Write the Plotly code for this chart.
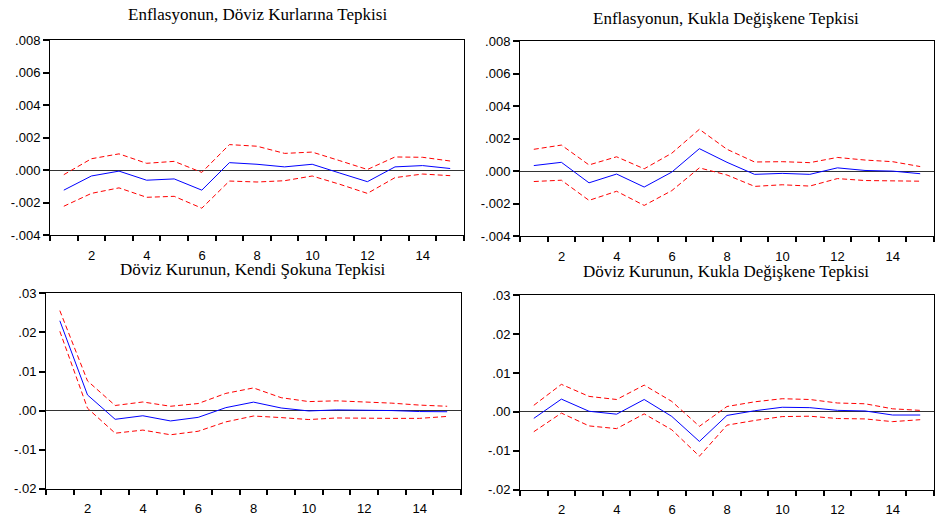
import plotly.graph_objects as go

# ---------------- data ----------------
periods = list(range(1, 16))

# Panel 1: Enflasyonun, Döviz Kurlarına Tepkisi
inf_fx = [-0.00123, -0.00036, -0.00006, -0.00062, -0.00054, -0.00123, 0.00046, 0.00036,
          0.00020, 0.00036, -0.00018, -0.00071, 0.00020, 0.00028, 0.00010]
inf_fx_up = [-0.00028, 0.00070, 0.00100, 0.00042, 0.00054, -0.00014, 0.00157, 0.00147,
             0.00103, 0.00111, 0.00058, 0.00004, 0.00081, 0.00079, 0.00056]
inf_fx_lo = [-0.00222, -0.00143, -0.00109, -0.00167, -0.00161, -0.00234, -0.00067, -0.00073,
             -0.00065, -0.00036, -0.00087, -0.00143, -0.00046, -0.00024, -0.00034]

# Panel 2: Enflasyonun, Kukla Değişkene Tepkisi
inf_d = [0.00034, 0.00054, -0.00072, -0.00018, -0.00098, -0.00006, 0.00138, 0.00054,
         -0.00020, -0.00014, -0.00020, 0.00020, 0.00004, 0.00000, -0.00016]
inf_d_up = [0.00134, 0.00160, 0.00038, 0.00088, 0.00014, 0.00110, 0.00257, 0.00134,
            0.00056, 0.00058, 0.00052, 0.00084, 0.00068, 0.00058, 0.00028]
inf_d_lo = [-0.00064, -0.00056, -0.00180, -0.00124, -0.00211, -0.00120, 0.00020, -0.00024,
            -0.00094, -0.00084, -0.00092, -0.00046, -0.00058, -0.00058, -0.00062]

# Panel 3: Döviz Kurunun, Kendi Şokuna Tepkisi
fx_fx = [0.0230, 0.0040, -0.00224, -0.00133, -0.00266, -0.00174, 0.00075, 0.00216,
         0.00066, -0.00010, 0.00017, 0.00010, 0.00000, -0.00025, -0.00030]
fx_fx_up = [0.0256, 0.0076, 0.0013, 0.0022, 0.0011, 0.0018, 0.0044, 0.0058,
            0.0033, 0.0023, 0.0025, 0.0022, 0.0019, 0.0014, 0.0011]
fx_fx_lo = [0.0203, 0.0006, -0.0058, -0.0050, -0.0062, -0.0053, -0.0029, -0.0014,
            -0.0018, -0.0023, -0.0019, -0.0020, -0.0020, -0.0020, -0.0015]

# Panel 4: Döviz Kurunun, Kukla Değişkene Tepkisi
fx_d = [-0.00166, 0.0033, 0.00017, -0.00058, 0.0032, -0.00116, -0.0076, -0.0009,
        0.0003, 0.0012, 0.0011, 0.0004, 0.00025, -0.0008, -0.0008]
fx_d_up = [0.0017, 0.0071, 0.0040, 0.0032, 0.0069, 0.0027, -0.0037, 0.0014,
           0.0026, 0.0034, 0.0032, 0.0023, 0.0021, 0.0008, 0.0004]
fx_d_lo = [-0.0051, -0.0003, -0.0036, -0.0043, -0.0005, -0.0046, -0.0114, -0.0034,
           -0.0022, -0.0012, -0.0011, -0.0017, -0.0018, -0.0025, -0.0020]

titles = ["Enflasyonun, Döviz Kurlarına Tepkisi",
          "Enflasyonun, Kukla Değişkene Tepkisi",
          "Döviz Kurunun, Kendi Şokuna Tepkisi",
          "Döviz Kurunun, Kukla Değişkene Tepkisi"]

x_tick_vals = [2, 4, 6, 8, 10, 12, 14]
x_tick_text = ["2", "4", "6", "8", "10", "12", "14"]
x_boundaries = [0.5, 1.5, 2.5, 3.5, 4.5, 5.5, 6.5, 7.5, 8.5, 9.5, 10.5, 11.5, 12.5, 13.5, 14.5, 15.5]

y_ticks_top = [-0.004, -0.002, 0.0, 0.002, 0.004, 0.006, 0.008]
y_text_top = ["-.004", "-.002", ".000", ".002", ".004", ".006", ".008"]
y_ticks_bot = [-0.02, -0.01, 0.0, 0.01, 0.02, 0.03]
y_text_bot = ["-.02", "-.01", ".00", ".01", ".02", ".03"]

# label of each boundary tick: the period to its right, when that period is labelled
label_of = dict(zip(x_tick_vals, x_tick_text))
boundary_text = [label_of.get(int(bv + 0.5), "") for bv in x_boundaries]

# ---------------- layout geometry (pixels) ----------------
W, H = 935, 518
boxes = [(50, 464, 34, 235), (520, 934, 35, 236), (46, 461, 295, 496), (520, 934, 297, 497)]
title_pos = [(257, 8), (726, 12), (253, 270), (726, 272)]

panels = [
    (inf_fx, inf_fx_up, inf_fx_lo, y_ticks_top, y_text_top),
    (inf_d, inf_d_up, inf_d_lo, y_ticks_top, y_text_top),
    (fx_fx, fx_fx_up, fx_fx_lo, y_ticks_bot, y_text_bot),
    (fx_d, fx_d_up, fx_d_lo, y_ticks_bot, y_text_bot),
]

fig = go.Figure()
tick_font = dict(family="Liberation Sans", size=13, color="#000000")
layout = dict(width=W, height=H, margin=dict(l=0, r=0, t=0, b=0),
              plot_bgcolor="white", showlegend=False, annotations=[])

for i, (resp, up, lo, yt, ytt) in enumerate(panels):
    n = "" if i == 0 else str(i + 1)
    xa, ya = "x" + n, "y" + n
    for vals, color, dash in ((up, "#ff0000", "5px,3px"), (lo, "#ff0000", "5px,3px"),
                              (resp, "#0000ff", "solid")):
        fig.add_trace(go.Scatter(x=periods, y=vals, mode="lines", xaxis=xa, yaxis=ya,
                                 line=dict(color=color, width=1, dash=dash)))
    l, r, t, b = boxes[i]
    half_step = int(round((r - l) / 15 / 2))
    # tick marks at period boundaries, labels shifted half a period to centre on periods
    layout["xaxis" + n] = dict(
        domain=[l / W, r / W], anchor=ya, range=[0.5, 15.5],
        tickmode="array", tickvals=x_boundaries, ticktext=boundary_text,
        ticklabelshift=half_step, ticklabelstandoff=3,
        ticks="outside", ticklen=5, tickcolor="#000000", tickwidth=1.5,
        showgrid=False, zeroline=False, showline=True, mirror=True,
        linecolor="#000000", linewidth=1, tickfont=tick_font)
    layout["yaxis" + n] = dict(
        domain=[1 - b / H, 1 - t / H], anchor=xa, range=[yt[0], yt[-1]],
        tickmode="array", tickvals=yt, ticktext=ytt,
        ticks="outside", ticklen=6, tickcolor="#000000", tickwidth=1.5,
        showgrid=False, zeroline=True, zerolinecolor="#333333", zerolinewidth=1,
        showline=True, mirror=True, linecolor="#000000", linewidth=1, tickfont=tick_font)
    tx, ty = title_pos[i]
    layout["annotations"].append(dict(
        text=titles[i], xref="paper", yref="paper", x=tx / W, y=1 - ty / H,
        xanchor="center", yanchor="middle", showarrow=False,
        font=dict(family="Liberation Serif", size=17, color="#000000")))

fig.update_layout(**layout)
fig.write_html("out.html")
